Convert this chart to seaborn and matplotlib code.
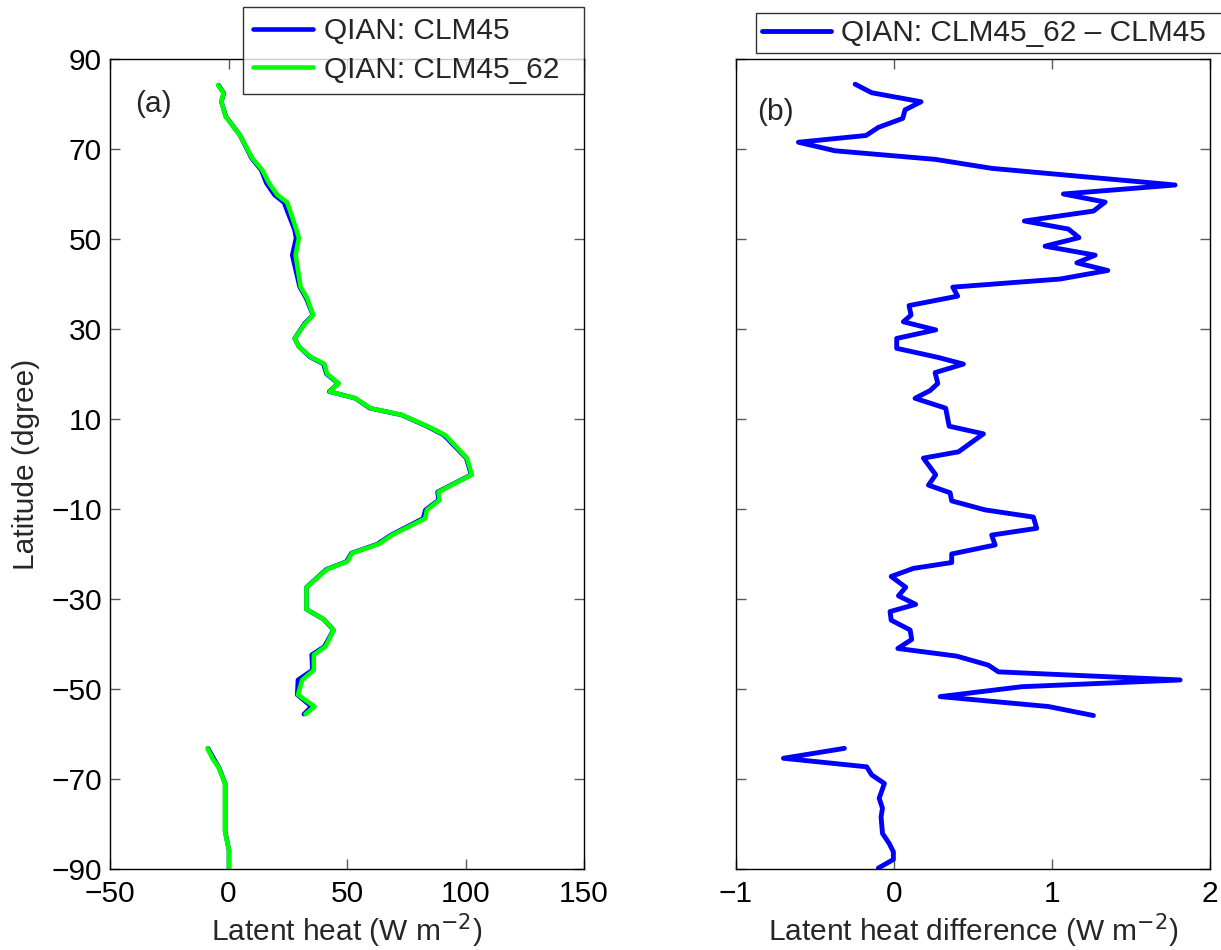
import numpy as np
import pandas as pd
import matplotlib
matplotlib.use("Agg")
import matplotlib.pyplot as plt
from matplotlib.lines import Line2D
import seaborn as sns

# ---------------- data ----------------
# Panel (a): latitude vertices and latent heat (W m-2)
lat_a = [84.2, 82.4, 80.5, 77.2, 73.1, 67.9, 65.3, 62.4, 59.8, 58.1, 52.0, 50.2, 46.4,
         39.4, 36.8, 33.1, 31.3, 27.9, 26.1, 23.8, 22.2, 20.0, 17.9, 16.1, 14.6, 12.4,
         10.9, 8.3, 6.4, 1.3, -2.4, -6.2, -8.0, -10.2, -12.1, -15.8, -17.8, -19.8, -21.7,
         -23.4, -27.4, -32.3, -34.5, -36.9, -40.6, -42.4, -45.8, -48.0, -51.3, -53.9, -55.6,
         -63.2, -65.4, -67.6, -71.0, -81.7, -85.8, -89.8]
seg_a = [0] * 51 + [1] * 7
lh_clm45_62 = [-4.4, -2.1, -3.0, -1.2, 4.8, 10.1, 14.3, 17.1, 20.6, 24.8, 28.7, 29.7, 28.3,
               30.4, 33.2, 35.7, 32.5, 27.9, 29.7, 34.6, 40.5, 41.6, 46.5, 42.7, 53.6, 59.9,
               73.2, 84.4, 91.5, 100.6, 102.7, 88.6, 89.1, 83.7, 83.0, 69.0, 63.4, 52.2, 50.1,
               41.6, 32.9, 32.9, 40.2, 44.4, 40.9, 36.0, 36.0, 31.1, 29.3, 36.3, 32.5,
               -8.9, -6.8, -4.0, -1.5, -1.5, 0.2, 0.2]
lh_clm45 = [-4.2, -2.0, -3.0, -1.1, 4.8, 9.8, 13.8, 16.0, 19.4, 23.4, 27.9, 28.5, 26.9,
            30.0, 32.8, 35.6, 32.2, 27.9, 29.7, 34.3, 40.1, 41.3, 46.3, 42.5, 53.5, 59.6,
            73.0, 84.0, 90.9, 100.3, 102.4, 88.2, 88.7, 83.1, 82.1, 68.5, 62.8, 51.9, 49.7,
            41.3, 32.9, 32.9, 40.1, 44.3, 40.4, 35.1, 35.4, 29.3, 29.0, 35.0, 31.8,
            -8.6, -6.3, -3.9, -1.4, -1.4, 0.2, 0.2]

# Panel (b): latitude vertices and difference CLM45_62 - CLM45 (W m-2)
lat_b = [84.4, 82.5, 80.5, 78.7, 76.8, 74.8, 73.0, 71.5, 69.6, 67.7, 65.7, 62.0, 60.0, 58.2,
         56.2, 54.0, 52.2, 50.3, 48.4, 46.4, 44.7, 43.0, 41.1, 39.3, 37.3, 35.2, 33.1, 31.6,
         29.8, 27.9, 25.7, 23.7, 22.2, 20.3, 17.9, 16.3, 14.6, 12.4, 8.4, 6.7, 2.7, 1.3,
         -2.4, -4.7, -6.4, -8.2, -10.2, -11.8, -14.3, -15.8, -18.0, -20.0, -21.9, -23.2,
         -25.0, -27.4, -29.3, -31.2, -32.8, -34.7, -36.9, -39.0, -41.0, -42.7, -44.7, -46.2,
         -48.0, -49.5, -51.7, -53.9, -55.9,
         -63.2, -65.4, -67.3, -69.1, -71.0, -74.3, -76.5, -78.4, -82.1, -84.3, -86.2, -87.9,
         -89.8]
seg_b = [0] * 71 + [1] * 13
lh_diff = [-0.246, -0.141, 0.171, 0.070, 0.055, -0.099, -0.177, -0.605, -0.373, 0.260,
           0.618, 1.779, 1.072, 1.336, 1.262, 0.825, 1.104, 1.171, 0.956, 1.273, 1.157,
           1.353, 1.051, 0.372, 0.403, 0.095, 0.108, 0.059, 0.264, 0.017, 0.017, 0.277,
           0.439, 0.260, 0.277, 0.228, 0.133, 0.327, 0.349, 0.566, 0.408, 0.186, 0.264,
           0.218, 0.355, 0.365, 0.576, 0.882, 0.903, 0.618, 0.640, 0.365, 0.365, 0.123,
           -0.018, 0.074, 0.028, 0.137, -0.025, -0.018, 0.102, 0.112, 0.024, 0.397, 0.597,
           0.661, 1.811, 0.808, 0.292, 0.977, 1.262,
           -0.314, -0.700, -0.173, -0.141, -0.061, -0.094, -0.073, -0.082, -0.073, -0.031,
           -0.004, -0.004, -0.099]

yticks = [-90, -70, -50, -30, -10, 10, 30, 50, 70, 90]
xticks_a = [-50, 0, 50, 100, 150]
xticks_b = [-1, 0, 1, 2]
labels_a = ["QIAN: CLM45", "QIAN: CLM45_62"]
label_b = "QIAN: CLM45_62 \u2013 CLM45"

# ---------------- style ----------------
sns.set_theme(style="ticks")
plt.rcParams["font.family"] = ["Liberation Sans", "DejaVu Sans"]
FS = 21.5
plt.rcParams["font.size"] = FS
plt.rcParams["axes.unicode_minus"] = True

BLUE = "#0000ff"
GREEN = "#00ff00"

df_a = pd.DataFrame({"lat": lat_a, "clm45": lh_clm45, "clm45_62": lh_clm45_62, "seg": seg_a})
df_b = pd.DataFrame({"lat": lat_b, "diff": lh_diff, "seg": seg_b})

fig = plt.figure(figsize=(12.21, 9.5), dpi=100)
ax1 = fig.add_axes([0.0901, 0.0853, 0.3882, 0.8526])
ax2 = fig.add_axes([0.6028, 0.0853, 0.3882, 0.8526])

sns.lineplot(data=df_a, x="clm45", y="lat", units="seg", estimator=None, sort=False,
             color=BLUE, lw=3.3, ax=ax1)
sns.lineplot(data=df_a, x="clm45_62", y="lat", units="seg", estimator=None, sort=False,
             color=GREEN, lw=3.3, ax=ax1)
sns.lineplot(data=df_b, x="diff", y="lat", units="seg", estimator=None, sort=False,
             color=BLUE, lw=3.5, ax=ax2)

for ax, xt, xl in [(ax1, xticks_a, (-50, 150)), (ax2, xticks_b, (-1, 2))]:
    ax.set_xlim(*xl)
    ax.set_ylim(-90, 90)
    ax.set_xticks(xt)
    ax.set_yticks(yticks)
    for s in ax.spines.values():
        s.set_visible(True)
        s.set_color("black")
        s.set_linewidth(1.0)
    ax.tick_params(direction="in", length=7, width=1.0, color="0.35",
                   top=True, right=True, labelsize=FS, labelcolor="black")
    ax.tick_params(axis="x", pad=8)
    ax.tick_params(axis="y", pad=6)

ax2.set_yticklabels([])
ax1.set_xlabel("Latent heat (W m$^{-2}$)", fontsize=FS, labelpad=2.5)
ax1.set_ylabel("Latitude (dgree)", fontsize=FS, labelpad=8)
ax2.set_xlabel("Latent heat difference (W m$^{-2}$)", fontsize=FS, labelpad=2.5)
ax2.set_ylabel("")

ax1.text(0.053, 0.945, "(a)", transform=ax1.transAxes, fontsize=FS, va="center", ha="left")
ax2.text(0.044, 0.935, "(b)", transform=ax2.transAxes, fontsize=FS, va="center", ha="left")

h_a = [Line2D([], [], color=BLUE, lw=3.3), Line2D([], [], color=GREEN, lw=3.3)]
leg1 = ax1.legend(h_a, labels_a, loc="upper left", bbox_to_anchor=(0.2806, 1.0642, 0.7194, 0.0),
                  mode="expand", fontsize=FS, frameon=True, fancybox=False, edgecolor="black",
                  handlelength=2.0, handletextpad=0.35, labelspacing=0.35,
                  borderpad=0.35, borderaxespad=0.0)
leg1.get_frame().set_linewidth(1.0)

h_b = [Line2D([], [], color=BLUE, lw=3.5)]
leg2 = ax2.legend(h_b, [label_b], loc="upper left", bbox_to_anchor=(0.0422, 1.0568, 1.01, 0.0),
                  mode="expand", fontsize=FS, frameon=True, fancybox=False, edgecolor="black",
                  handlelength=2.3, handletextpad=0.35, borderpad=0.2, borderaxespad=0.0)
leg2.get_frame().set_linewidth(1.0)

fig.savefig("out.png", dpi=100, facecolor="white")
